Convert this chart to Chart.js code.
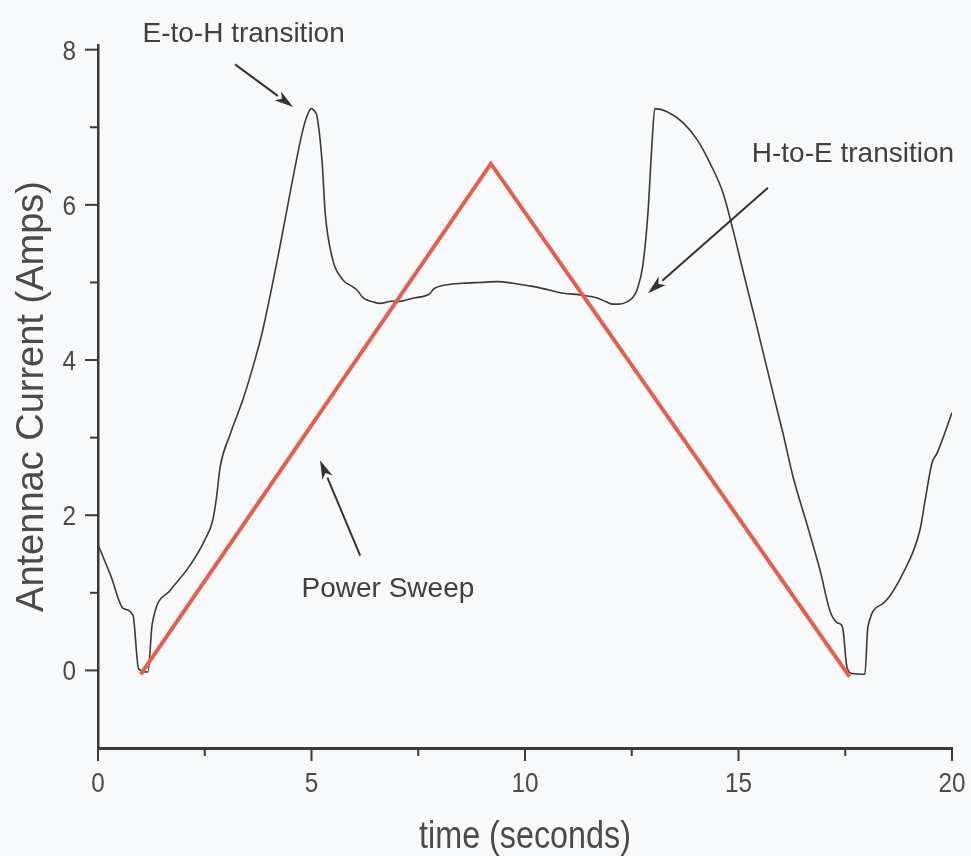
<!DOCTYPE html>
<html>
<head>
<meta charset="utf-8">
<title>Antenna current during a power sweep</title>
<script src="https://cdn.jsdelivr.net/npm/chart.js@4.4.1/dist/chart.umd.min.js"></script>
<style>
  html, body { margin: 0; padding: 0; background: #f7f9fa; }
  #wrap { width: 971px; height: 856px; }
</style>
</head>
<body>
<div id="wrap"><canvas id="c" width="971" height="856"></canvas></div>
<script>
// Measured antenna current (A) against time (s)
const timeS = [
  0.00, 0.30, 0.59, 0.82, 0.95, 1.17, 1.27, 1.69, 2.15, 2.50,
  2.69, 2.78, 2.86, 3.10, 3.40, 3.70, 3.86, 4.26, 4.57, 4.80,
  4.92, 5.00, 5.08, 5.13, 5.25, 5.32, 5.48, 5.74, 5.95, 6.07,
  6.21, 6.44, 6.60, 6.91, 7.00, 7.40, 7.78, 7.85, 8.17, 8.55,
  8.95, 9.35, 9.72, 10.05, 10.35, 10.90, 11.29, 11.69, 11.90, 12.06,
  12.20, 12.39, 12.53, 12.62, 12.76, 12.88, 12.97, 13.04, 13.33, 13.70,
  14.03, 14.33, 14.64, 14.87, 15.10, 15.43, 15.85, 16.04, 16.28, 16.60,
  16.91, 17.14, 17.30, 17.42, 17.45, 17.54, 17.66, 17.96, 18.03, 18.38,
  18.85, 19.25, 19.37, 19.53, 19.65, 20.00
];
const currentA = [
  1.62, 1.22, 0.80, 0.71, 0.02, -0.02, 0.60, 1.03, 1.35, 1.68,
  1.94, 2.25, 2.62, 3.05, 3.50, 4.05, 4.39, 5.46, 6.36, 6.97,
  7.18, 7.24, 7.20, 7.14, 6.54, 5.90, 5.33, 5.03, 4.95, 4.90,
  4.80, 4.75, 4.73, 4.76, 4.75, 4.80, 4.86, 4.91, 4.97, 4.99,
  5.00, 5.01, 4.99, 4.96, 4.93, 4.86, 4.84, 4.80, 4.75, 4.72,
  4.72, 4.75, 4.81, 4.90, 5.22, 5.90, 6.75, 7.24, 7.20, 7.06,
  6.84, 6.54, 6.15, 5.68, 5.16, 4.43, 3.48, 3.06, 2.49, 1.89,
  1.29, 0.77, 0.62, 0.58, 0.52, 0.04, -0.04, -0.05, 0.56, 0.86,
  1.25, 1.81, 2.19, 2.67, 2.80, 3.32
];

// Triangular RF power sweep (scaled to the current axis)
const sweepT = [1.0, 9.2, 17.6];
const sweepP = [-0.05, 6.53, -0.08];

// Axis ticks and labels
const xMajorTicks = [0, 5, 10, 15, 20];
const xMinorTicks = [2.5, 7.5, 12.5, 17.5];
const yMajorTicks = [0, 2, 4, 6, 8];
const yMinorTicks = [1, 3, 5, 7];
const xTitle = 'time (seconds)';
const yTitle = 'Antennac Current (Amps)';

// Callouts: text anchor and arrow, in data units
const noteText  = ['E-to-H transition', 'H-to-E transition', 'Power Sweep'];
const noteX     = [3.41, 17.68, 6.79];
const noteY     = [8.10, 6.55, 0.94];
const arrowX0   = [3.21, 15.69, 6.14];
const arrowY0   = [7.81, 6.22, 1.48];
const arrowX1   = [4.57, 12.88, 5.20];
const arrowY1   = [7.26, 4.86, 2.71];

const FONT = '"Liberation Sans", Arial, Helvetica, sans-serif';
const INK = '#3a3a3a';

function pts(xs, ys) { return xs.map((x, i) => ({ x: x, y: ys[i] })); }

function drawText(ctx, text, x, y, size, align, hscale, rot) {
  ctx.save();
  ctx.translate(x, y);
  if (rot) ctx.rotate(rot);
  ctx.scale(hscale, 1);
  ctx.font = size + 'px ' + FONT;
  ctx.textAlign = align;
  ctx.textBaseline = 'alphabetic';
  ctx.fillText(text, 0, 0);
  ctx.restore();
}

function drawArrow(ctx, x0, y0, x1, y1) {
  const ang = Math.atan2(y1 - y0, x1 - x0);
  const len = 19, half = 5.5;
  const bx = x1 - Math.cos(ang) * len, by = y1 - Math.sin(ang) * len;
  ctx.beginPath();
  ctx.moveTo(x0, y0);
  ctx.lineTo(bx, by);
  ctx.stroke();
  ctx.beginPath();
  ctx.moveTo(x1, y1);
  ctx.lineTo(bx + Math.sin(ang) * half, by - Math.cos(ang) * half);
  ctx.lineTo(x1 - Math.cos(ang) * (len - 5), y1 - Math.sin(ang) * (len - 5));
  ctx.lineTo(bx - Math.sin(ang) * half, by + Math.cos(ang) * half);
  ctx.closePath();
  ctx.fill();
}

const axisDecor = {
  id: 'axisDecor',
  afterDraw(chart) {
    const ctx = chart.ctx;
    const xs = chart.scales.x, ys = chart.scales.y;
    const area = chart.chartArea;
    ctx.save();
    ctx.strokeStyle = INK;
    ctx.fillStyle = INK;
    ctx.lineWidth = 2;

    // tick marks, pointing outward
    xMajorTicks.forEach(v => {
      const p = xs.getPixelForValue(v);
      ctx.beginPath(); ctx.moveTo(p, area.bottom); ctx.lineTo(p, area.bottom + 13); ctx.stroke();
    });
    xMinorTicks.forEach(v => {
      const p = xs.getPixelForValue(v);
      ctx.beginPath(); ctx.moveTo(p, area.bottom); ctx.lineTo(p, area.bottom + 8); ctx.stroke();
    });
    yMajorTicks.forEach(v => {
      const p = ys.getPixelForValue(v);
      ctx.beginPath(); ctx.moveTo(area.left - 13, p); ctx.lineTo(area.left, p); ctx.stroke();
    });
    yMinorTicks.forEach(v => {
      const p = ys.getPixelForValue(v);
      ctx.beginPath(); ctx.moveTo(area.left - 8, p); ctx.lineTo(area.left, p); ctx.stroke();
    });

    // tick labels
    ctx.fillStyle = '#4a4a4a';
    xMajorTicks.forEach(v => {
      drawText(ctx, String(v), xs.getPixelForValue(v), area.bottom + 44, 27, 'center', 0.9, 0);
    });
    yMajorTicks.forEach(v => {
      drawText(ctx, String(v), area.left - 22, ys.getPixelForValue(v) + 10, 27, 'right', 0.9, 0);
    });

    // axis titles
    drawText(ctx, xTitle, (area.left + area.right) / 2, 848, 38, 'center', 0.85, 0);
    drawText(ctx, yTitle, 43, (area.top + area.bottom) / 2, 38, 'center', 1.0, -Math.PI / 2);

    // callouts
    ctx.fillStyle = '#404040';
    noteText.forEach((t, i) => {
      drawText(ctx, t, xs.getPixelForValue(noteX[i]), ys.getPixelForValue(noteY[i]), 28, 'center', 1.0, 0);
    });
    ctx.strokeStyle = '#333333';
    ctx.fillStyle = '#333333';
    ctx.lineWidth = 2;
    noteText.forEach((t, i) => {
      drawArrow(ctx,
        xs.getPixelForValue(arrowX0[i]), ys.getPixelForValue(arrowY0[i]),
        xs.getPixelForValue(arrowX1[i]), ys.getPixelForValue(arrowY1[i]));
    });
    ctx.restore();
  }
};

new Chart(document.getElementById('c'), {
  type: 'scatter',
  data: {
    datasets: [
      {
        label: 'Power sweep',
        data: pts(sweepT, sweepP),
        showLine: true,
        borderColor: '#e2604f',
        borderWidth: 4,
        pointRadius: 0,
        tension: 0,
        order: 0
      },
      {
        label: 'Antenna current',
        data: pts(timeS, currentA),
        showLine: true,
        borderColor: '#3a3a3a',
        borderWidth: 1.6,
        pointRadius: 0,
        cubicInterpolationMode: 'monotone',
        order: 1
      }
    ]
  },
  options: {
    responsive: false,
    devicePixelRatio: 1,
    animation: false,
    layout: { padding: { left: 98, right: 19, top: 45, bottom: 108 } },
    plugins: { legend: { display: false }, tooltip: { enabled: false } },
    scales: {
      x: {
        type: 'linear', min: 0, max: 20,
        grid: { display: false, drawTicks: false },
        border: { display: true, color: INK, width: 3 },
        ticks: { display: false }
      },
      y: {
        type: 'linear', min: -1, max: 8.06,
        grid: { display: false, drawTicks: false },
        border: { display: true, color: INK, width: 2.5 },
        ticks: { display: false }
      }
    }
  },
  plugins: [axisDecor]
});
</script>
</body>
</html>
